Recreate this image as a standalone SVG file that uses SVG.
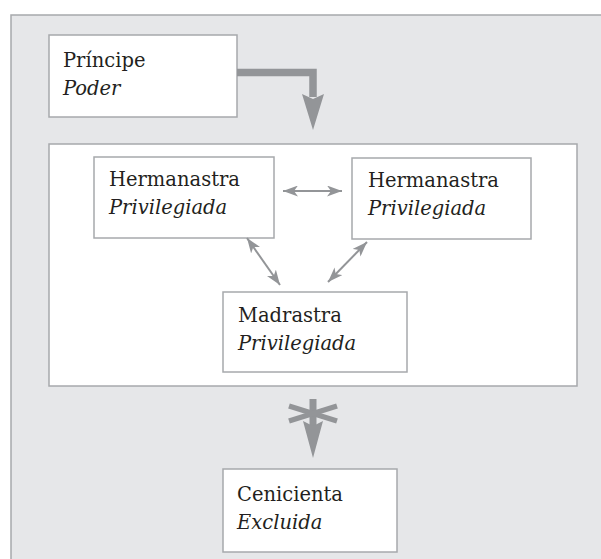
<svg xmlns="http://www.w3.org/2000/svg" width="601" height="559" viewBox="0 0 601 559">
<defs>
<style>
.box{fill:#ffffff;stroke:#a7a9ac;stroke-width:1.5}
.t{font-family:"DejaVu Serif","Liberation Serif",serif;font-size:19.5px;fill:#231f20}
.i{font-style:italic}
.thin{stroke:#939598;stroke-width:2;fill:none}
.thick{stroke:#939598;fill:none}
.head{fill:#939598}
</style>
<marker id="ah" viewBox="0 0 15 11" refX="15" refY="5.5" markerWidth="15" markerHeight="11" markerUnits="userSpaceOnUse" orient="auto-start-reverse">
<path d="M0,0 L15,5.5 L0,11 L4,5.5 z" fill="#939598"/>
</marker>
</defs>
<rect x="11" y="15" width="600" height="560" fill="#e6e7e9" stroke="#a7a9ac" stroke-width="1.5"/>
<g id="grupo">
<rect class="box" x="49" y="144" width="528" height="242"/>
</g>
<g id="principe">
<rect class="box" x="49" y="35" width="188" height="82"/>
<text class="t" x="63" y="67">Príncipe</text>
<text class="t i" x="63" y="95">Poder</text>
</g>
<g id="hermanastra1">
<rect class="box" x="94" y="157" width="180" height="81"/>
<text class="t" x="109" y="186">Hermanastra</text>
<text class="t i" x="109" y="214">Privilegiada</text>
</g>
<g id="hermanastra2">
<rect class="box" x="352" y="158" width="179" height="81"/>
<text class="t" x="368" y="187">Hermanastra</text>
<text class="t i" x="368" y="215">Privilegiada</text>
</g>
<g id="madrastra">
<rect class="box" x="223" y="292" width="184" height="80"/>
<text class="t" x="238" y="322">Madrastra</text>
<text class="t i" x="238" y="350">Privilegiada</text>
</g>
<g id="cenicienta">
<rect class="box" x="223" y="469" width="174" height="83"/>
<text class="t" x="237" y="501">Cenicienta</text>
<text class="t i" x="237" y="529">Excluida</text>
</g>
<g id="conectores">
<path class="thick" d="M237,72.5 H313 V97" stroke-width="7.5" stroke-linejoin="miter"/>
<path class="head" d="M302,94 L313,130 L324,94 L313,99 z"/>
<line class="thin" x1="283" y1="191" x2="342" y2="191" marker-start="url(#ah)" marker-end="url(#ah)"/>
<line class="thin" x1="247" y1="238" x2="280" y2="285" marker-start="url(#ah)" marker-end="url(#ah)"/>
<line class="thin" x1="367" y1="242" x2="328" y2="282" marker-start="url(#ah)" marker-end="url(#ah)"/>
<line class="thick" x1="313" y1="399" x2="313" y2="426" stroke-width="7"/>
<line class="thick" x1="289" y1="406" x2="337" y2="421" stroke-width="5.5"/>
<line class="thick" x1="289" y1="421" x2="337" y2="406" stroke-width="5.5"/>
<path class="head" d="M303,421 L313,458 L323,421 L313,426 z"/>
</g>
</svg>
